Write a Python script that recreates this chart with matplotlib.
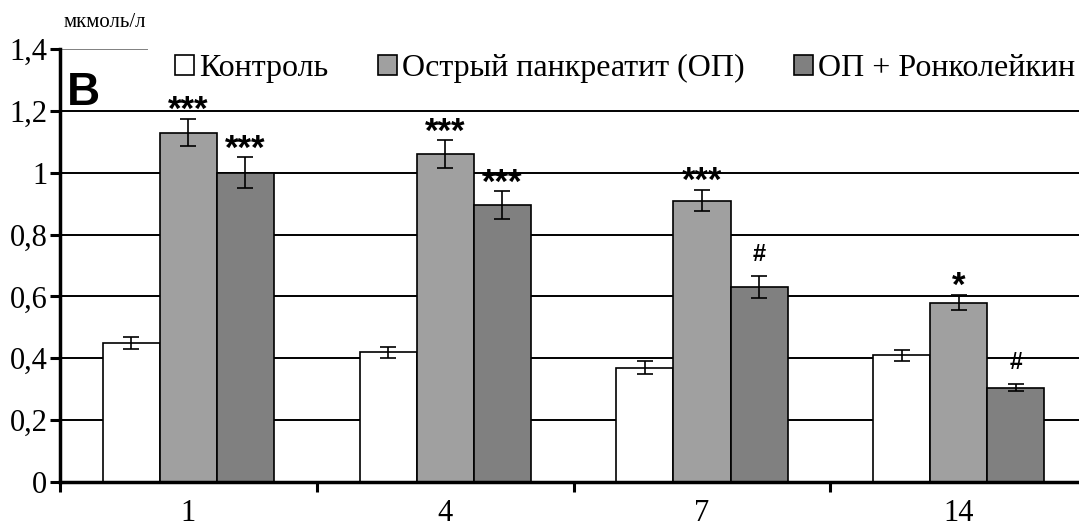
import numpy as np
import matplotlib.pyplot as plt

days = ['1', '4', '7', '14']
series_names = ['Контроль', 'Острый панкреатит (ОП)', 'ОП + Ронколейкин']
control = [0.45, 0.42, 0.37, 0.41]
control_err = [0.02, 0.018, 0.02, 0.018]
op = [1.13, 1.06, 0.91, 0.58]
op_err = [0.045, 0.045, 0.035, 0.025]
op_ron = [1.00, 0.895, 0.63, 0.305]
op_ron_err = [0.05, 0.045, 0.035, 0.012]
op_marks = ['***', '***', '***', '*']
op_ron_marks = ['***', '***', '#', '#']

colors = ['white', '#a0a0a0', '#808080']
serif = 'Liberation Serif'
sans = 'Liberation Sans'

fig = plt.figure(figsize=(10.79, 5.28), dpi=100)
ax = fig.add_axes([0.0556, 0.0871, 0.952, 0.820])

x = np.arange(len(days)) + 0.5
w = 0.222
offsets = [-w, 0, w]
data = [(control, control_err), (op, op_err), (op_ron, op_ron_err)]

for y in [0.2, 0.4, 0.6, 0.8, 1.0, 1.2]:
    ax.axhline(y, color='black', lw=1.4, zorder=1)
# top border only shows left of the legend
ax.axhline(1.4, xmin=0, xmax=0.085, color='#808080', lw=1.4, zorder=1)

handles = []
for (vals, errs), off, c, name in zip(data, offsets, colors, series_names):
    b = ax.bar(x + off, vals, width=w, color=c, edgecolor='black', linewidth=1.2,
               yerr=errs, capsize=6, error_kw=dict(elinewidth=1.2, capthick=1.2, ecolor='black'),
               zorder=2, label=name)
    handles.append(b)

def mark(xs, vals, errs, marks):
    for xi, v, e, m in zip(xs, vals, errs, marks):
        if m == '#':
            size, dy = 17, 11
        else:
            size, dy = 25, -1
        ax.annotate(m, (xi, v + e), xytext=(0, dy), textcoords='offset points',
                    ha='center', va='baseline', fontsize=size, fontweight='bold', family=sans)

mark(x + offsets[1], op, op_err, op_marks)
mark(x + offsets[2], op_ron, op_ron_err, op_ron_marks)

ax.set_xlim(0, 4)
ax.set_ylim(0, 1.4)
ax.set_yticks(np.arange(0, 1.41, 0.2))
ax.set_yticklabels(['0', '0,2', '0,4', '0,6', '0,8', '1', '1,2', '1,4'], family=serif, fontsize=22)
ax.set_xticks([0, 1, 2, 3, 4])
ax.set_xticklabels([])
ax.set_xticks(x, minor=True)
ax.set_xticklabels(days, minor=True, family=serif, fontsize=22)
ax.tick_params(axis='x', which='minor', length=0, pad=12)
ax.tick_params(axis='x', which='major', direction='out', length=7, width=2.2)
ax.tick_params(axis='y', direction='out', length=7, width=2.2, pad=2)

for s in ['top', 'right']:
    ax.spines[s].set_visible(False)
for s in ['left', 'bottom']:
    ax.spines[s].set_linewidth(2.5)
    ax.spines[s].set_zorder(3)

leg = ax.legend(handles=handles, loc='center left', bbox_to_anchor=(0.112, 0.955), ncol=3,
                frameon=False, prop={'family': serif, 'size': 23},
                handlelength=0.6, handleheight=0.6, handletextpad=0.15,
                columnspacing=1.55, borderpad=0, borderaxespad=0)

fig.text(0.059, 0.949, 'мкмоль/л', family=serif, fontsize=15, va='baseline')
fig.text(0.062, 0.801, 'В', family=sans, fontweight='bold', fontsize=33, va='baseline')

fig.savefig('out.png', dpi=100)
